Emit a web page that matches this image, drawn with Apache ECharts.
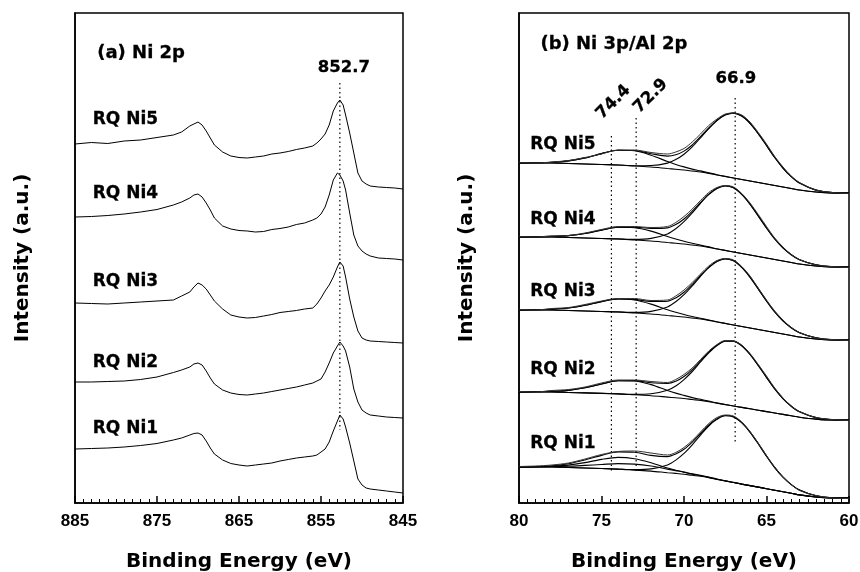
<!DOCTYPE html>
<html>
<head>
<meta charset="utf-8">
<script src="https://cdn.jsdelivr.net/npm/echarts@6.0.0/dist/echarts.min.js"></script>
<style>
  html, body { margin: 0; padding: 0; background: #fff; }
  #chart { width: 860px; height: 572px; }
</style>
</head>
<body>
<div id="chart"></div>
<script>
// ---- panel (a) Ni 2p ----
const energyA = [885, 883, 881, 879, 877, 875, 873, 872, 871, 870.5, 870, 869.5, 869, 868.5, 868,
  867, 866, 865, 864, 863, 862, 861, 860, 859, 858, 857, 856,
  855.5, 855, 854.5, 854, 853.5, 853, 852.7, 852.3, 852, 851.5, 851, 850.5, 850, 849.5, 849,
  848, 847, 846, 845]
const ni5A = [359, 360.5, 359.5, 362, 363, 365.5, 368, 371, 377, 379, 381, 378, 372, 365, 358,
  351, 347, 345.5, 345, 346, 347, 349, 350, 351.5, 353.5, 355, 357,
  360, 364, 369, 378, 392, 400, 403, 398, 388, 370, 350, 330, 322, 319, 317,
  316, 315.5, 315, 314]
const ni4A = [286, 286.5, 287.5, 289, 291, 293.5, 298, 301, 305, 308, 309, 306, 300, 293, 285,
  277, 274, 272.5, 272, 271, 271.5, 273.5, 274.5, 276, 278.5, 280, 283,
  285, 289, 296, 308, 323, 330, 328, 322, 313, 290, 268, 257, 252, 249, 247,
  245, 244.5, 244, 243]
const ni3A = [200, 199.5, 199, 200, 201, 202, 203, 207, 211, 216, 220, 218, 214, 208, 202,
  194, 188, 186, 185, 185.5, 187, 188.5, 190.5, 191.5, 192.5, 194, 195,
  199, 205, 212, 218, 226, 236, 241, 237, 226, 204, 186, 172, 165, 163, 162,
  161.5, 161, 160.5, 160]
const ni2A = [121, 121, 121.5, 122, 123.5, 126, 130.5, 133, 136, 139, 140, 138, 132, 125, 119,
  113, 110, 108.5, 108, 109, 110, 111.5, 113, 114.5, 116, 118, 120,
  122, 124, 131, 140, 150, 157, 161, 157, 152, 136, 114, 101, 93, 90, 88,
  87, 86, 85.5, 85]
const ni1A = [54, 54.5, 55, 56, 57.5, 59.5, 63, 65, 68, 69.5, 70, 68, 62, 55, 49,
  43, 39.5, 38, 37, 38, 39, 40, 42, 43.5, 45, 46, 47,
  48, 51, 54, 61, 72, 82, 88, 84, 76, 60, 42, 24, 18, 15, 14,
  13, 12, 11, 10]

// ---- panel (b) Ni 3p / Al 2p ----
const energyB = [80, 79, 78, 77, 76, 75, 74, 73, 72, 71, 70.5, 70, 69.5, 69, 68.5, 68, 67.5, 67,
  66.5, 66, 65.5, 65, 64.5, 64, 63.5, 63, 62, 61, 60]

const rawNi5 = [340.5, 340, 341, 342.5, 345.5, 349, 353, 353, 350.5, 349, 351, 354.5, 361, 369, 377.5, 384, 389, 390, 388, 381, 370.5, 359, 346.5, 336, 327, 320.5, 313, 310.5, 309.5]
const fitNi5 = [340, 340.2, 340.8, 342.1, 345.1, 349.4, 352.7, 352.5, 349.3, 346.9, 348.2, 351.9, 358, 366.3, 375, 382.8, 388.2, 389.9, 387, 379.7, 369.4, 357.5, 345.5, 334.9, 326.3, 319.9, 312.9, 310.4, 310]
const mainNi5 = [340, 340, 340, 339.5, 339, 338.5, 338, 337.3, 337.5, 339.9, 343.4, 348.8, 356.1, 365.2, 374.4, 382.5, 388.1, 389.9, 387, 379.7, 369.4, 357.5, 345.5, 334.9, 326.3, 319.9, 312.9, 310.4, 310]
const humpNi5 = [340, 340.2, 340.8, 342.1, 345.1, 349.4, 352.7, 352.2, 347.8, 341.5, 338.6, 336.1, 333.9, 332.1, 330.2, 328.3, 326.6, 325, 323.5, 322, 320.5, 319, 317.5, 316, 314.5, 313, 311, 310, 310]
const bgNi5 = [340, 340, 340, 339.5, 339, 338.5, 338, 337, 336, 334.5, 333.8, 333, 332, 331, 329.6, 328, 326.5, 325, 323.5, 322, 320.5, 319, 317.5, 316, 314.5, 313, 311, 310, 310]

const rawNi4 = [266.5, 266, 267, 267.5, 270, 273.5, 276.5, 276.5, 275.5, 276.5, 280.5, 286.5, 294, 302.5, 310.5, 315.5, 317.5, 316, 309.5, 300, 288.5, 276.5, 265, 256, 248.5, 243.5, 238, 236.5, 235.5]
const fitNi4 = [266, 266.1, 266.6, 267.4, 269.5, 272.9, 275.8, 275.9, 274.5, 275.1, 278.4, 284, 291.8, 300.6, 308.8, 314.7, 317.2, 315.2, 308.6, 298.9, 287.1, 275, 264, 255.1, 248.2, 243.2, 238.1, 236.2, 236]
const mainNi4 = [266, 266, 266, 265.5, 265, 264.5, 264.1, 263.6, 264.6, 269.1, 274.2, 281.3, 290.1, 299.7, 308.3, 314.5, 317.1, 315.2, 308.6, 298.9, 287.1, 275, 264, 255.1, 248.2, 243.2, 238.1, 236.2, 236]
const humpNi4 = [266, 266.1, 266.6, 267.4, 269.5, 272.9, 275.7, 275.3, 271.9, 266.5, 264, 261.7, 259.7, 257.9, 256.1, 254.2, 252.6, 251, 249.5, 248, 246.5, 245, 243.5, 242, 240.5, 239, 237, 236, 236]
const bgNi4 = [266, 266, 266, 265.5, 265, 264.5, 264, 263, 262, 260.5, 259.8, 259, 258, 257, 255.6, 254, 252.5, 251, 249.5, 248, 246.5, 245, 243.5, 242, 240.5, 239, 237, 236, 236]

const rawNi3 = [193.5, 193, 194.5, 195.5, 198.5, 202, 204.5, 204.5, 202.5, 203, 207, 213, 220.5, 229, 237, 242.5, 244.5, 243, 236.5, 227, 215, 203, 192, 183, 175.5, 170.5, 165, 163.5, 162.5]
const fitNi3 = [193, 193.2, 193.8, 195, 197.7, 201.4, 204.1, 203.6, 201.5, 201.8, 205.1, 210.8, 218.6, 227.5, 235.7, 241.7, 244.2, 242.2, 235.6, 225.9, 214.1, 202, 191, 182.1, 175.2, 170.2, 165.1, 163.2, 163]
const mainNi3 = [193, 193, 193, 192.5, 192, 191.5, 191.1, 190.6, 191.6, 196.1, 201.2, 208.3, 217.1, 226.7, 235.3, 241.5, 244.1, 242.2, 235.6, 225.9, 214.1, 202, 191, 182.1, 175.2, 170.2, 165.1, 163.2, 163]
const humpNi3 = [193, 193.2, 193.8, 195, 197.7, 201.4, 204, 203, 198.9, 193.2, 190.7, 188.5, 186.5, 184.8, 183, 181.2, 179.6, 178, 176.5, 175, 173.5, 172, 170.5, 169, 167.5, 166, 164, 163, 163]
const bgNi3 = [193, 193, 193, 192.5, 192, 191.5, 191, 190, 189, 187.5, 186.8, 186, 185, 184, 182.6, 181, 179.5, 178, 176.5, 175, 173.5, 172, 170.5, 169, 167.5, 166, 164, 163, 163]

const rawNi2 = [111.5, 111, 112.5, 113.5, 116, 120, 123, 123, 121.5, 120.5, 123.5, 128.5, 135, 143.5, 152, 158.5, 162.5, 162, 158, 149.5, 138.5, 127, 115, 105, 97, 91.5, 85.5, 83.5, 82.5]
const fitNi2 = [111, 111.2, 111.7, 112.6, 115.2, 119, 122.2, 122.4, 120.3, 119.5, 121.7, 126.5, 133.4, 142.2, 150.8, 157.8, 162, 161.9, 157.2, 148.7, 137.6, 125.6, 114.1, 104.4, 96.8, 91.2, 85.4, 83.3, 83]
const mainNi2 = [111, 111, 111, 110.5, 110.1, 109.6, 109.1, 108.6, 109.2, 112.8, 117, 123.4, 131.5, 141.1, 150.2, 157.5, 161.9, 161.9, 157.2, 148.7, 137.6, 125.6, 114.1, 104.4, 96.8, 91.2, 85.4, 83.3, 83]
const humpNi2 = [111, 111.2, 111.7, 112.6, 115.2, 119, 122.2, 122, 118.4, 112.6, 109.9, 107.6, 105.4, 103.7, 101.9, 100.1, 98.5, 97, 95.6, 94.2, 92.8, 91.4, 90, 88.6, 87.2, 85.8, 83.9, 83, 83]
const bgNi2 = [111, 111, 111, 110.5, 110.1, 109.6, 109.1, 108.2, 107.3, 105.9, 105.2, 104.5, 103.5, 102.6, 101.3, 99.8, 98.4, 97, 95.6, 94.2, 92.8, 91.4, 90, 88.6, 87.2, 85.8, 83.9, 83, 83]

const rawNi1 = [36.5, 37, 38, 40, 44, 48.5, 51.5, 52, 50, 48, 50.5, 55.5, 62.5, 71, 79.5, 85.5, 88, 87, 81, 71.5, 60, 47.5, 36, 26, 18.5, 12.5, 7.5, 5, 4.5]
const fitNi1 = [36, 36.4, 37.3, 39.2, 43, 47.6, 51.1, 50.8, 47.6, 46.4, 48.9, 53.7, 60.9, 69.5, 78, 84.2, 87.5, 86.2, 80.3, 70.9, 59.2, 46.9, 35.4, 25.8, 18.4, 13, 7.2, 5.2, 5]
const mainNi1 = [36, 36, 36, 35.5, 35, 34.5, 33.9, 33.4, 34.1, 38.1, 42.9, 49.6, 58.2, 67.9, 77, 83.6, 87.2, 86.1, 80.3, 70.9, 59.2, 46.9, 35.4, 25.8, 18.4, 13, 7.2, 5.2, 5]
const humpNi1 = [36, 36.2, 36.8, 37.9, 40.4, 43.6, 45.6, 44.3, 40.3, 35, 32.8, 30.8, 28.9, 27.3, 25.6, 23.8, 22.1, 20.5, 18.9, 17.4, 15.9, 14.3, 12.8, 11.2, 9.7, 8.1, 6, 5, 5]
const hump2Ni1 = [36, 36.2, 36.5, 36.8, 37.6, 38.5, 39.4, 38.9, 37, 33.9, 32.4, 30.9, 29.2, 27.7, 26, 24, 22.2, 20.6, 18.9, 17.4, 15.9, 14.3, 12.8, 11.2, 9.7, 8.1, 6, 5, 5]
const bgNi1 = [36, 36, 36, 35.5, 35, 34.5, 33.9, 32.9, 31.9, 30.3, 29.6, 28.8, 27.7, 26.7, 25.3, 23.6, 22, 20.5, 18.9, 17.4, 15.9, 14.3, 12.8, 11.2, 9.7, 8.1, 6, 5, 5]

// labels
const sampleNames = ['RQ Ni5', 'RQ Ni4', 'RQ Ni3', 'RQ Ni2', 'RQ Ni1']
const labelYA = [383, 309, 221, 140, 74]
const labelYB = [358, 283, 211, 133, 59]

// peak reference lines: [energy, top, bottom]
const peakLinesA = [[852.7, 420, 73]]
const peakLinesB = [[74.4, 367, 30], [72.9, 385, 31], [66.9, 405, 61]]

const FONT = 'DejaVu Sans'
const TICK_FONT = 'Liberation Sans'
const BLACK = '#000'

const pairs = (xs, ys) => xs.map((x, i) => [x, ys[i]])

const lineSeries = (idx, xs, ys, color, width) => ({
  type: 'line',
  xAxisIndex: idx,
  yAxisIndex: idx,
  data: pairs(xs, ys),
  symbol: 'none',
  silent: true,
  lineStyle: { color: color || BLACK, width: width || 1 },
  z: 3
})

const smoothSeries = (idx, xs, ys, color, width) => ({
  ...lineSeries(idx, xs, ys, color, width),
  smooth: 0.3
})

const dottedSeries = (idx, lines) => lines.map(([x, top, bottom]) => ({
  type: 'line',
  xAxisIndex: idx,
  yAxisIndex: idx,
  data: [[x, top], [x, bottom]],
  symbol: 'none',
  silent: true,
  lineStyle: { color: BLACK, width: 1.2, type: [1.5, 3] },
  z: 2
}))

const textSeries = (idx, items) => ({
  type: 'scatter',
  xAxisIndex: idx,
  yAxisIndex: idx,
  symbolSize: 1,
  silent: true,
  itemStyle: { color: 'rgba(0,0,0,0)', opacity: 1 },
  data: items,
  z: 5
})

const textItem = (text, x, y, fontSize, extra) => ({
  value: [x, y],
  label: Object.assign({
    show: true,
    formatter: text,
    position: 'right',
    distance: 0,
    fontFamily: FONT,
    fontWeight: 'bold',
    fontSize: fontSize,
    color: BLACK,
    textBorderColor: BLACK,
    textBorderWidth: 0.3
  }, extra || {})
})

const xAxisFor = (gridIndex, min, max, interval) => ({
  type: 'value',
  gridIndex,
  min,
  max,
  interval,
  inverse: true,
  name: 'Binding Energy (eV)',
  nameLocation: 'middle',
  nameGap: 49,
  nameTextStyle: { fontFamily: FONT, fontWeight: 'bold', fontSize: 20, color: BLACK },
  axisLine: { onZero: false, lineStyle: { color: BLACK, width: 1.5 } },
  axisTick: { inside: true, length: 7, lineStyle: { color: BLACK, width: 1.5 } },
  minorTick: { show: true, splitNumber: 10, length: 4, lineStyle: { color: BLACK, width: 1 } },
  axisLabel: { fontFamily: TICK_FONT, fontWeight: 'bold', fontSize: 17, color: BLACK, margin: 10, showMinLabel: true, showMaxLabel: true },
  splitLine: { show: false },
  minorSplitLine: { show: false }
})

const yAxisFor = (gridIndex) => ({
  type: 'value',
  gridIndex,
  min: 0,
  max: 490,
  name: 'Intensity (a.u.)',
  nameLocation: 'middle',
  nameGap: 42,
  nameTextStyle: { fontFamily: FONT, fontWeight: 'bold', fontSize: 20, color: BLACK },
  axisLine: { show: true, onZero: false, lineStyle: { color: BLACK, width: 1.5 } },
  axisTick: { show: false },
  axisLabel: { show: false },
  splitLine: { show: false }
})

const gridBox = (left, width) => ({
  left, top: 13, width, height: 490,
  show: true, borderColor: BLACK, borderWidth: 1.5,
  outerBoundsMode: 'none'
})

const spectraA = [ni5A, ni4A, ni3A, ni2A, ni1A]
const spectraB = [
  [bgNi5, humpNi5, mainNi5, fitNi5, rawNi5],
  [bgNi4, humpNi4, mainNi4, fitNi4, rawNi4],
  [bgNi3, humpNi3, mainNi3, fitNi3, rawNi3],
  [bgNi2, humpNi2, mainNi2, fitNi2, rawNi2],
  [bgNi1, humpNi1, hump2Ni1, mainNi1, fitNi1, rawNi1]
]

const series = []
spectraA.forEach(ys => series.push(lineSeries(0, energyA, ys, BLACK, 1)))
series.push(...dottedSeries(0, peakLinesA))
spectraB.forEach(group => {
  group.forEach((ys, k) => {
    const isRaw = k === group.length - 1
    series.push(smoothSeries(1, energyB, ys, isRaw ? '#333' : BLACK, isRaw ? 1 : 1.1))
  })
})
series.push(...dottedSeries(1, peakLinesB))

series.push(textSeries(0, [
  textItem('(a) Ni 2p', 882.35, 450, 18),
  textItem('852.7', 852.2, 435, 16.5, { position: 'inside' }),
  ...sampleNames.map((n, i) => textItem(n, 882.9, labelYA[i], 17))
]))
series.push(textSeries(1, [
  textItem('(b) Ni 3p/Al 2p', 78.73, 459, 18),
  textItem('66.9', 66.85, 424, 16.5, { position: 'inside' }),
  textItem('74.4', 74.28, 401, 16.5, { position: 'inside', rotate: 45 }),
  textItem('72.9', 72.02, 407, 16.5, { position: 'inside', rotate: 45 }),
  ...sampleNames.map((n, i) => textItem(n, 79.35, labelYB[i], 17))
]))

const chart = echarts.init(document.getElementById('chart'), null, { renderer: 'canvas' })
chart.setOption({
  animation: false,
  backgroundColor: '#fff',
  grid: [gridBox(75, 328), gridBox(519, 330)],
  xAxis: [xAxisFor(0, 845, 885, 10), xAxisFor(1, 60, 80, 5)],
  yAxis: [yAxisFor(0), yAxisFor(1)],
  series
})
</script>
</body>
</html>
